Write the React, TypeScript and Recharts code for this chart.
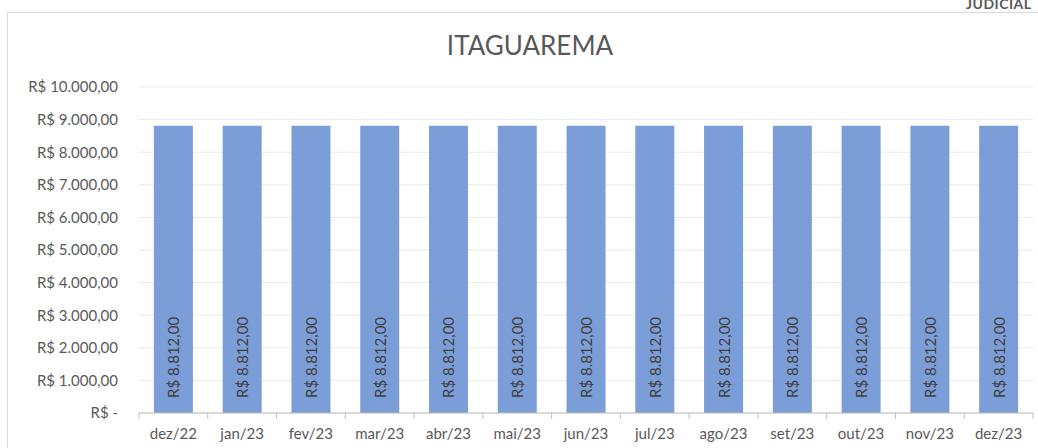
import { BarChart, Bar, XAxis, YAxis, CartesianGrid, LabelList } from "recharts";

const MONTHS = [
  "dez/22", "jan/23", "fev/23", "mar/23", "abr/23", "mai/23", "jun/23",
  "jul/23", "ago/23", "set/23", "out/23", "nov/23", "dez/23",
];
const VALUES = [8812, 8812, 8812, 8812, 8812, 8812, 8812, 8812, 8812, 8812, 8812, 8812, 8812];
const Y_TICKS = [0, 1000, 2000, 3000, 4000, 5000, 6000, 7000, 8000, 9000, 10000];

const FONT = "Lato, 'Open Sans', sans-serif";
const TEXT = "#595959";
const AXIS = "#bfbfbf";

function formatBRL(v: number): string {
  if (v === 0) return "R$ -";
  const [int, dec] = v.toFixed(2).split(".");
  const withDots = int.replace(/\B(?=(\d{3})+(?!\d))/g, ".");
  return `R$ ${withDots},${dec}`;
}

const data = MONTHS.map((m, i) => ({ month: m, value: VALUES[i] }));

function VerticalLabel(props: any) {
  const { x, y, width, height, value } = props;
  const cx = x + width / 2;
  const by = y + height - 15;
  return (
    <text
      x={cx}
      y={by}
      transform={`rotate(-90 ${cx} ${by})`}
      textAnchor="start"
      dominantBaseline="central"
      fontSize={15}
      fontFamily={FONT}
      fill="#404040"
    >
      {formatBRL(value)}
    </text>
  );
}

// month label plus a tick mark on the band edges, like Excel
function MonthTick(props: any) {
  const { x, y, payload, index, visibleTicksCount } = props;
  const half = payload.offset ?? 0;
  const isLast = index === visibleTicksCount - 1;
  return (
    <g>
      <line x1={x - half} x2={x - half} y1={y} y2={y + 6} stroke={AXIS} />
      {isLast && <line x1={x + half} x2={x + half} y1={y} y2={y + 6} stroke={AXIS} />}
      <text x={x} y={y + 26} textAnchor="middle" fill={TEXT} fontSize={15} fontFamily={FONT}>
        {payload.value}
      </text>
    </g>
  );
}

export default function App() {
  return (
    <div style={{ position: "absolute", left: 0, top: 0, width: 1038, height: 448, overflow: "hidden", background: "#fff" }}>
      <div
        style={{
          position: "absolute", left: 7, top: 12, width: 1040, height: 460,
          border: "1px solid #d9d9d9", boxSizing: "border-box",
        }}
      />
      <div
        style={{
          position: "absolute", left: 966, top: -5, fontFamily: FONT, fontWeight: 700,
          fontSize: 14, color: "#595959", letterSpacing: 0.5,
        }}
      >
        JUDICIAL
      </div>
      <div
        style={{
          position: "absolute", left: 0, top: 29, width: 1060, textAlign: "center",
          fontFamily: FONT, fontSize: 26, color: TEXT,
        }}
      >
        ITAGUAREMA
      </div>
      <div style={{ position: "absolute", left: 0, top: 0 }}>
        <BarChart
          width={1038}
          height={448}
          data={data}
          margin={{ top: 87, right: 5, left: 0, bottom: 0 }}
          barCategoryGap="21.7%"
        >
          <CartesianGrid vertical={false} stroke="#e9e9e9" />
          <XAxis
            dataKey="month"
            tickLine={false}
            tickSize={0}
            tickMargin={0}
            axisLine={{ stroke: AXIS }}
            tick={<MonthTick />}
            height={35}
            interval={0}
          />
          <YAxis
            domain={[0, 10000]}
            ticks={Y_TICKS}
            tickFormatter={formatBRL}
            tick={{ fill: TEXT, fontSize: 15, fontFamily: FONT }}
            tickLine={false}
            axisLine={false}
            width={139}
            tickMargin={15}
          />
          <Bar dataKey="value" fill="#7C9ED8" isAnimationActive={false}>
            <LabelList dataKey="value" content={VerticalLabel} />
          </Bar>
        </BarChart>
      </div>
    </div>
  );
}
